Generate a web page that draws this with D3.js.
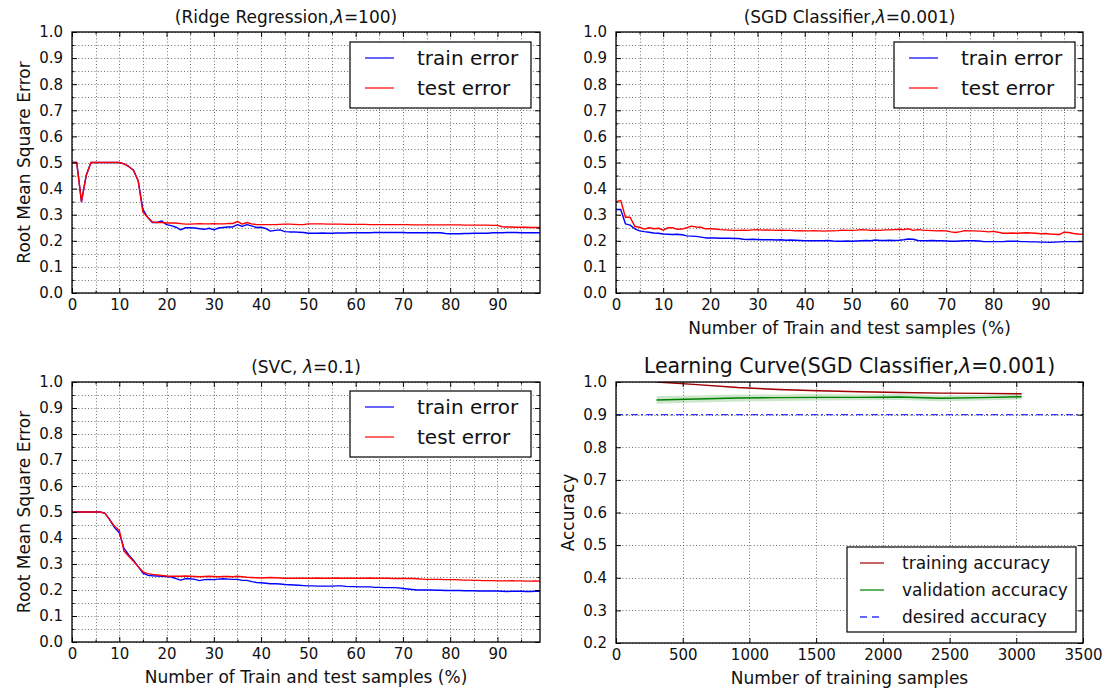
<!DOCTYPE html>
<html><head><meta charset="utf-8">
<script src="https://cdn.jsdelivr.net/npm/d3@7"></script>
<style>
html,body{margin:0;padding:0;background:#fff;}
text{font-family:"DejaVu Sans",sans-serif;fill:#111;}
</style></head>
<body><svg id="chart" width="1107" height="695"></svg>
<script>
// ---------- DATA ----------
const pctX1 = d3.range(0, 100);   // 0..99
const pctX2 = d3.range(0, 100);
const pctX3 = d3.range(0, 100);

const ridgeTest = [.50,.50,.35,.45,.50,.50,.50,.50,.50,.50,.50,.495,.485,.47,.43,.31,.29,.272,.27,.27,
.268,.268,.268,.266,.264,.264,.265,.266,.265,.265,.266,.265,.265,.266,.266,.274,.264,.27,.265,.262,
.262,.262,.262,.262,.263,.264,.264,.263,.262,.262,.265,.265,.265,.265,.264,.264,.264,.264,.263,.263,
.263,.263,.263,.262,.262,.262,.262,.262,.262,.262,.262,.262,.261,.261,.261,.261,.261,.261,.261,.261,
.261,.261,.261,.260,.260,.260,.260,.260,.260,.259,.259,.254,.253,.253,.252,.252,.252,.251,.251,.251];
const ridgeTrain = [.50,.50,.35,.45,.50,.50,.50,.50,.50,.50,.50,.495,.485,.47,.43,.32,.29,.27,.27,.276,
.262,.258,.252,.242,.25,.25,.249,.246,.244,.248,.242,.249,.251,.253,.253,.262,.255,.262,.257,.251,
.252,.247,.237,.24,.242,.235,.234,.234,.233,.232,.229,.229,.229,.23,.229,.229,.23,.23,.23,.231,
.231,.231,.231,.231,.232,.232,.232,.232,.232,.232,.232,.231,.231,.231,.231,.231,.231,.231,.231,.228,
.227,.227,.227,.228,.228,.229,.229,.229,.229,.231,.231,.231,.232,.232,.232,.231,.231,.231,.231,.231];

const sgdTest = [.35,.355,.29,.29,.255,.252,.245,.25,.246,.248,.241,.25,.25,.244,.245,.25,.256,.253,.252,.246,
.246,.245,.243,.242,.241,.24,.24,.241,.24,.242,.243,.241,.242,.241,.24,.241,.24,.24,.238,.239,
.238,.238,.239,.238,.237,.238,.238,.239,.241,.24,.24,.241,.243,.242,.24,.241,.24,.242,.242,.243,
.244,.243,.246,.24,.243,.241,.24,.239,.238,.239,.238,.234,.232,.235,.239,.238,.238,.237,.236,.234,
.236,.233,.229,.229,.23,.229,.23,.231,.23,.229,.227,.228,.226,.225,.224,.233,.232,.228,.226,.225];
const sgdTrain = [.32,.32,.265,.26,.246,.238,.235,.233,.23,.229,.226,.225,.224,.225,.223,.219,.218,.217,.214,.211,
.211,.211,.21,.21,.21,.209,.209,.206,.205,.206,.205,.204,.204,.204,.203,.204,.202,.203,.202,.201,
.2,.2,.2,.2,.2,.201,.199,.198,.198,.199,.198,.199,.2,.201,.2,.203,.201,.201,.202,.201,
.202,.204,.207,.206,.201,.2,.2,.201,.2,.2,.199,.198,.198,.199,.2,.2,.2,.199,.197,.197,
.197,.197,.197,.198,.198,.198,.197,.197,.196,.196,.195,.195,.194,.195,.196,.197,.197,.197,.197,.197];

const svcTest = [.50,.50,.50,.50,.50,.50,.50,.495,.47,.445,.43,.35,.33,.31,.29,.27,.263,.26,.258,.256,
.254,.253,.253,.253,.254,.253,.252,.251,.252,.253,.252,.251,.252,.252,.251,.253,.251,.249,.248,.247,
.246,.247,.248,.247,.246,.245,.245,.245,.245,.245,.245,.245,.246,.245,.245,.245,.246,.245,.245,.245,
.245,.245,.245,.246,.245,.245,.245,.245,.244,.244,.244,.244,.244,.243,.242,.241,.241,.241,.241,.24,
.24,.24,.239,.238,.238,.237,.237,.236,.236,.236,.235,.235,.235,.236,.235,.235,.234,.234,.235,.234];
const svcTrain = [.50,.50,.50,.50,.50,.50,.50,.495,.47,.44,.42,.36,.335,.315,.29,.265,.257,.255,.254,.253,
.252,.25,.244,.238,.244,.243,.241,.236,.24,.241,.24,.242,.243,.242,.241,.241,.237,.237,.232,.229,
.228,.226,.224,.224,.223,.221,.22,.219,.218,.217,.216,.216,.215,.215,.215,.215,.216,.216,.214,.213,
.213,.212,.212,.212,.21,.21,.209,.209,.209,.208,.206,.204,.202,.2,.2,.2,.2,.199,.199,.198,
.198,.198,.198,.197,.197,.197,.196,.196,.196,.196,.196,.195,.194,.195,.195,.195,.194,.194,.195,.195];

const trainSizes = [304, 608, 912, 1216, 1520, 1824, 2128, 2432, 2736, 3040];
const trainAccMean = [1.0, 0.992, 0.983, 0.977, 0.973, 0.970, 0.968, 0.966, 0.965, 0.964];
const trainAccStd  = [0.0, 0.002, 0.002, 0.002, 0.002, 0.002, 0.002, 0.002, 0.002, 0.002];
const valAccMean   = [0.945, 0.948, 0.951, 0.952, 0.953, 0.953, 0.954, 0.950, 0.952, 0.955];
const valAccStd    = [0.012, 0.011, 0.011, 0.010, 0.010, 0.009, 0.009, 0.009, 0.009, 0.008];
const desiredAcc = 0.9;

const pctTicks = [0,10,20,30,40,50,60,70,80,90];
const pctMinor = [5,15,25,35,45,55,65,75,85,95];
const errTicks = [0,0.1,0.2,0.3,0.4,0.5,0.6,0.7,0.8,0.9,1.0];
const errMinor = [0.05,0.15,0.25,0.35,0.45,0.55,0.65,0.75,0.85,0.95];
const sampleTicks = [0,500,1000,1500,2000,2500,3000,3500];
const accTicks = [0.2,0.3,0.4,0.5,0.6,0.7,0.8,0.9,1.0];

// ---------- DRAW ----------
const svg = d3.select("#chart");
const TICKFONT = 15, LABFONT = 17;

function panel(o){
  const x = d3.scaleLinear().domain(o.xDomain).range([o.left, o.right]);
  const y = d3.scaleLinear().domain(o.yDomain).range([o.bottom, o.top]);
  const g = svg.append("g");
  const w = o.right - o.left, h = o.bottom - o.top;
  const clipId = "clip" + o.id;
  svg.append("clipPath").attr("id", clipId).append("rect")
    .attr("x", o.left).attr("y", o.top).attr("width", w).attr("height", h);

  // grid
  const gridX = o.xMajor.concat(o.xMinor || []);
  const gridY = o.yMajor.concat(o.yMinor || []);
  const grid = g.append("g").attr("stroke", "#000").attr("stroke-width", 0.7)
    .attr("stroke-dasharray", "1,2.2").attr("opacity", 0.8);
  grid.selectAll("line.gx").data(gridX).join("line")
    .attr("x1", d => Math.round(x(d)) + 0.5).attr("x2", d => Math.round(x(d)) + 0.5)
    .attr("y1", o.top).attr("y2", o.bottom);
  grid.selectAll("line.gy").data(gridY).join("line")
    .attr("y1", d => Math.round(y(d)) + 0.5).attr("y2", d => Math.round(y(d)) + 0.5)
    .attr("x1", o.left).attr("x2", o.right);

  const plot = g.append("g").attr("clip-path", `url(#${clipId})`);
  o.draw(plot, x, y);

  // frame
  g.append("rect").attr("x", o.left).attr("y", o.top).attr("width", w).attr("height", h)
    .attr("fill", "none").attr("stroke", "#000").attr("stroke-width", 1.3);

  // axes (ticks inward)
  const fmtY = d3.format(".1f");
  const ax = (axis, tr) => {
    const a = g.append("g").attr("transform", tr).call(axis);
    a.select(".domain").remove();
    a.selectAll("line").attr("stroke", "#000").attr("stroke-width", 1);
    a.selectAll("text").attr("font-size", TICKFONT).attr("fill", "#111")
      .attr("font-family", "DejaVu Sans");
    return a;
  };
  ax(d3.axisBottom(x).tickValues(o.xMajor).tickFormat(o.xFmt || (d => d)).tickSizeInner(-5).tickSizeOuter(0).tickPadding(6),
     `translate(0,${o.bottom})`);
  ax(d3.axisTop(x).tickValues(o.xMajor).tickFormat("").tickSizeInner(-5).tickSizeOuter(0), `translate(0,${o.top})`);
  ax(d3.axisLeft(y).tickValues(o.yMajor).tickFormat(fmtY).tickSizeInner(-5).tickSizeOuter(0).tickPadding(9),
     `translate(${o.left},0)`);
  ax(d3.axisRight(y).tickValues(o.yMajor).tickFormat("").tickSizeInner(-5).tickSizeOuter(0), `translate(${o.right},0)`);
  if (o.xMinor) {
    ax(d3.axisBottom(x).tickValues(o.xMinor).tickFormat("").tickSizeInner(-2.5).tickSizeOuter(0), `translate(0,${o.bottom})`);
    ax(d3.axisTop(x).tickValues(o.xMinor).tickFormat("").tickSizeInner(-2.5).tickSizeOuter(0), `translate(0,${o.top})`);
  }
  if (o.yMinor) {
    ax(d3.axisLeft(y).tickValues(o.yMinor).tickFormat("").tickSizeInner(-2.5).tickSizeOuter(0), `translate(${o.left},0)`);
    ax(d3.axisRight(y).tickValues(o.yMinor).tickFormat("").tickSizeInner(-2.5).tickSizeOuter(0), `translate(${o.right},0)`);
  }

  // title
  const t = svg.append("text").attr("x", o.titleX ?? (o.left + o.right) / 2).attr("y", o.top - 9)
    .attr("text-anchor", "middle").attr("font-size", o.titleSize || LABFONT);
  o.title.forEach(p => {
    const ts = t.append("tspan").text(p.t);
    if (p.it) ts.attr("font-style", "italic");
  });
  if (o.ylabel) {
    svg.append("text").attr("transform", `translate(${o.left - o.ylabelOff},${(o.top + o.bottom) / 2}) rotate(-90)`)
      .attr("text-anchor", "middle").attr("font-size", LABFONT).text(o.ylabel);
  }
  if (o.xlabel) {
    svg.append("text").attr("x", (o.left + o.right) / 2).attr("y", o.bottom + 41)
      .attr("text-anchor", "middle").attr("font-size", LABFONT).text(o.xlabel);
  }
  // legend
  if (o.legend) {
    const L = o.legend;
    const lg = svg.append("g");
    lg.append("rect").attr("x", L.x).attr("y", L.y).attr("width", L.w).attr("height", L.h)
      .attr("fill", "#fff").attr("stroke", "#000").attr("stroke-width", 1.2);
    L.items.forEach((it, i) => {
      const yy = L.y + L.first + i * L.step;
      lg.append("line").attr("x1", L.x + L.lx1).attr("x2", L.x + L.lx2).attr("y1", yy).attr("y2", yy)
        .attr("stroke", it.c).attr("stroke-width", 1.5).attr("stroke-dasharray", it.dash || null);
      lg.append("text").attr("x", L.x + L.tx).attr("y", yy).attr("dy", "0.36em")
        .attr("font-size", L.fs).text(it.t);
    });
  }
  return {x, y};
}

function errLines(trainArr, testArr, xs) {
  return (plot, x, y) => {
    const line = d3.line().x((d, i) => x(xs[i])).y(d => y(d));
    plot.append("path").datum(trainArr).attr("d", line).attr("fill", "none")
      .attr("stroke", "#0000ff").attr("stroke-width", 1.4).attr("stroke-linejoin", "round");
    plot.append("path").datum(testArr).attr("d", line).attr("fill", "none")
      .attr("stroke", "#ff0000").attr("stroke-width", 1.4).attr("stroke-linejoin", "round");
  };
}
const errLegend = (x, y) => ({x, y, w: 181, h: 66, first: 16, step: 30, lx1: 15, lx2: 44, tx: 67, fs: 20,
  items: [{t: "train error", c: "#3333ff"}, {t: "test error", c: "#ff3333"}]});

panel({id: 1, left: 72, right: 540, top: 32, bottom: 293, xDomain: [0, 99], yDomain: [0, 1],
  xMajor: pctTicks, xMinor: pctMinor, yMajor: errTicks, yMinor: errMinor,
  title: [{t: "(Ridge Regression,"}, {t: "λ", it: true}, {t: "=100)"}], titleX: 286,
  ylabel: "Root Mean Square Error", ylabelOff: 42,
  draw: errLines(ridgeTrain, ridgeTest, pctX1), legend: errLegend(350, 42)});

panel({id: 2, left: 616, right: 1083, top: 32, bottom: 293, xDomain: [0, 99], yDomain: [0, 1],
  xMajor: pctTicks, xMinor: pctMinor, yMajor: errTicks, yMinor: errMinor,
  title: [{t: "(SGD Classifier,"}, {t: "λ", it: true}, {t: "=0.001)"}],
  xlabel: "Number of Train and test samples (%)",
  draw: errLines(sgdTrain, sgdTest, pctX2), legend: errLegend(894, 42)});

panel({id: 3, left: 72, right: 540, top: 382, bottom: 642, xDomain: [0, 99], yDomain: [0, 1],
  xMajor: pctTicks, xMinor: pctMinor, yMajor: errTicks, yMinor: errMinor,
  title: [{t: "(SVC, "}, {t: "λ", it: true}, {t: "=0.1)"}],
  ylabel: "Root Mean Square Error", ylabelOff: 42,
  xlabel: "Number of Train and test samples (%)",
  draw: errLines(svcTrain, svcTest, pctX3), legend: errLegend(350, 391)});

panel({id: 4, left: 616, right: 1083, top: 382, bottom: 643, xDomain: [0, 3500], yDomain: [0.2, 1.0],
  xMajor: sampleTicks, yMajor: accTicks,
  title: [{t: "Learning Curve(SGD Classifier,"}, {t: "λ", it: true}, {t: "=0.001)"}], titleSize: 20.5,
  ylabel: "Accuracy", ylabelOff: 42, xlabel: "Number of training samples",
  draw: (plot, x, y) => {
    const area = (m, s) => d3.area().x((d, i) => x(trainSizes[i])).y0((d, i) => y(m[i] - s[i])).y1((d, i) => y(m[i] + s[i]));
    plot.append("path").datum(trainAccMean).attr("d", area(trainAccMean, trainAccStd)).attr("fill", "#8b0000").attr("opacity", 0.15);
    plot.append("path").datum(valAccMean).attr("d", area(valAccMean, valAccStd)).attr("fill", "#008000").attr("opacity", 0.2);
    const line = d3.line().x((d, i) => x(trainSizes[i])).y(d => y(d));
    plot.append("path").datum(trainAccMean).attr("d", line).attr("fill", "none").attr("stroke", "#a00000").attr("stroke-width", 1.4);
    plot.append("path").datum(valAccMean).attr("d", line).attr("fill", "none").attr("stroke", "#008000").attr("stroke-width", 1.4);
    plot.append("line").attr("x1", x(0)).attr("x2", x(3500)).attr("y1", y(desiredAcc)).attr("y2", y(desiredAcc))
      .attr("stroke", "#3333ff").attr("stroke-width", 1.3).attr("stroke-dasharray", "7,3,2,3");
  },
  legend: {x: 847, y: 547, w: 229, h: 85, first: 16, step: 27, lx1: 13, lx2: 37, tx: 55, fs: 17,
    items: [{t: "training accuracy", c: "#b03030"}, {t: "validation accuracy", c: "#2a9a2a"},
            {t: "desired accuracy", c: "#3333ff", dash: "7,5"}]}});
</script></body></html>
